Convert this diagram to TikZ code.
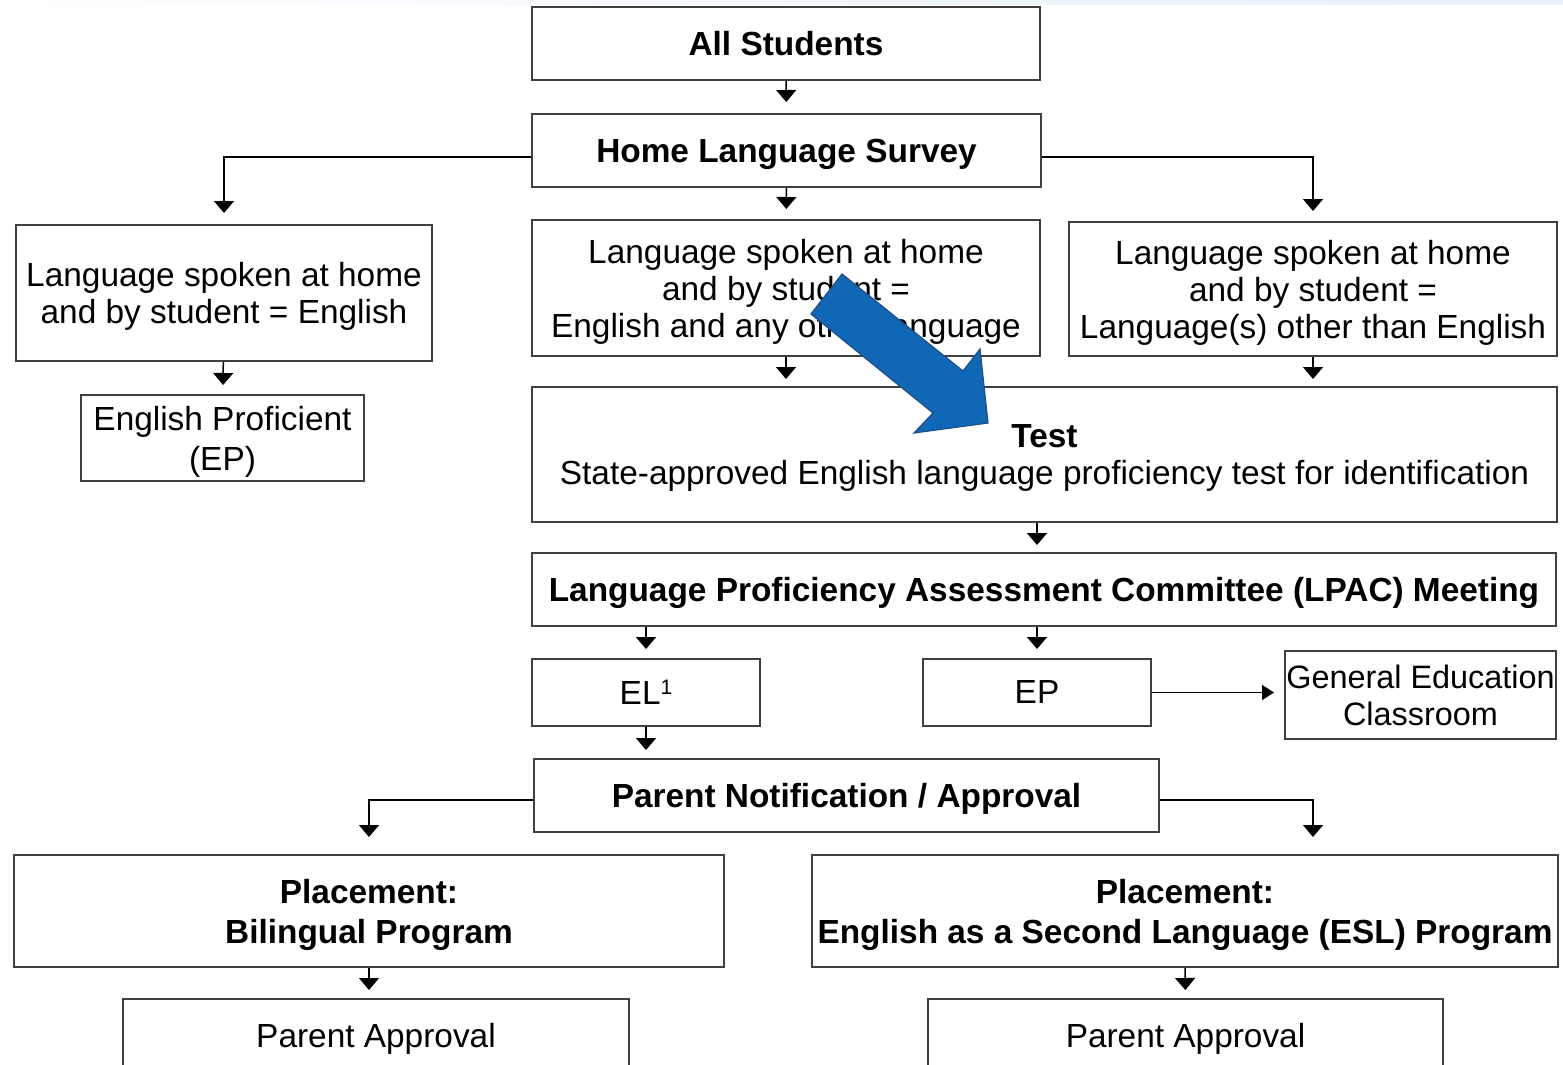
\documentclass[tikz,border=0pt]{standalone}
\usepackage{fontspec}
\setmainfont{Liberation Sans}
\usetikzlibrary{arrows.meta,positioning}
\definecolor{boxline}{RGB}{64,64,64}
\definecolor{bluefill}{RGB}{16,103,181}
\definecolor{blueline}{RGB}{30,78,140}
\definecolor{bandblue}{RGB}{232,238,250}
\tikzset{
  box/.style={draw=boxline, line width=1pt, inner sep=0pt, align=center, text depth=0pt,
    font=\fontsize{16.7}{18.5}\selectfont},
  boldbox/.style={box, font=\fontsize{16.7}{20}\selectfont\bfseries},
  arr/.style={-{Triangle[width=10pt,length=6pt]}, line width=0.75pt, shorten >=4.5pt},
}
\begin{document}
\begin{tikzpicture}[x=0.5pt,y=-0.5pt]
              \useasboundingbox (0,0) rectangle (1563,1065);
              \clip (0,0) rectangle (1563,1065);
              \shade[left color=white, right color=bandblue] (0,0) rectangle (1563,4.5);

              % Define boxes
              \node[boldbox, minimum width=254pt, minimum height=36.5pt] (all) at (786,43.5) {All Students};
              \node[boldbox, minimum width=254.5pt, minimum height=36.5pt] (hls) at (786.5,150.5) {Home Language Survey};
              \node[box, minimum width=208pt, minimum height=68pt] (lhome) at (224,293) {Language spoken at home\\and by student = English};
              \node[box, minimum width=254pt, minimum height=68pt] (mhome) at (786,288) {Language spoken at home\\and by student =\\English and any other language};
              \node[box, minimum width=244pt, minimum height=67pt] (rhome) at (1313,289) {Language spoken at home\\and by student =\\Language(s) other than English};
              \node[box, minimum width=141.5pt, minimum height=43pt, font=\fontsize{16.7}{20}\selectfont] (epl) at (222.5,438) {English Proficient\\(EP)};
              \node[box, minimum width=512.5pt, minimum height=67.5pt] (test) at (1044.5,454.5) {\textbf{Test}\\State-approved English language proficiency test for identification};
              \node[boldbox, minimum width=512pt, minimum height=36.5pt] (lpac) at (1044,589.5) {Language Proficiency Assessment Committee (LPAC) Meeting};
              \node[box, minimum width=114pt, minimum height=33.5pt] (el) at (646,692.5) {EL\raisebox{5pt}{\fontsize{10.5}{10.5}\selectfont 1}};
              \node[box, minimum width=114pt, minimum height=33.5pt] (ep) at (1037,692.5) {EP};
              \node[box, minimum width=135.5pt, minimum height=44pt, font=\fontsize{16.2}{18.5}\selectfont] (gen) at (1420.5,695) {General Education\\Classroom};
              \node[boldbox, minimum width=312.5pt, minimum height=36.5pt] (pn) at (846.5,795.5) {Parent Notification / Approval};
              \node[boldbox, minimum width=355pt, minimum height=56pt] (bil) at (369,911) {Placement:\\Bilingual Program};
              \node[boldbox, minimum width=373pt, minimum height=56pt] (esl) at (1185,911) {Placement:\\English as a Second Language (ESL) Program};
              \node[box, minimum width=253pt, minimum height=36.5pt] (pal) at (376,1035.5) {Parent Approval};
              \node[box, minimum width=257.5pt, minimum height=36.5pt] (par) at (1185.5,1035.5) {Parent Approval};

              % Draw connectors
              \draw[arr, shorten >=5.5pt] (all) -- (hls);
              \draw[arr, shorten >=5.5pt] ([yshift=-3.25pt]hls.west) -| (lhome.north);
              \draw[arr, shorten >=5pt] (hls) -- (mhome);
              \draw[arr, shorten >=5pt] ([yshift=-3.25pt]hls.east) -| (rhome.north);
              \draw[arr] (lhome) -- (epl);
              \draw[arr, shorten >=3.5pt] (mhome.south) -- (mhome.south |- test.north);
              \draw[arr, shorten >=3.5pt] (rhome.south) -- (rhome.south |- test.north);
              \draw[arr, shorten >=3.5pt] (test.south -| ep.north) -- (lpac.north -| ep.north);
              \draw[arr] (lpac.south -| el.north) -- (el.north);
              \draw[arr] (lpac.south -| ep.north) -- (ep.north);
              \draw[arr, -{Triangle[width=7.5pt,length=6pt]}, shorten >=5pt] (ep.east) -- (ep.east -| gen.west);
              \draw[arr, shorten >=4pt] (el.south) -- (el.south |- pn.north);
              \draw[arr, shorten >=8.5pt] ([yshift=-2.25pt]pn.west) -| (bil.north);
              \draw[arr, shorten >=8.5pt] ([yshift=-2.25pt]pn.east) -| (rhome.south |- esl.north);
              \draw[arr, shorten >=4pt] (bil.south) -- (bil.south |- pal.north);
              \draw[arr, shorten >=4pt] (esl.south) -- (par.north);

              % Blue block arrow
              \draw[fill=bluefill, draw=blueline, line width=0.6pt, line join=miter]
                (842,274) -- (963,371) -- (980,349) -- (988,423) -- (914,433) -- (933,413) -- (811,314) -- cycle;
            \end{tikzpicture}
\end{document}
